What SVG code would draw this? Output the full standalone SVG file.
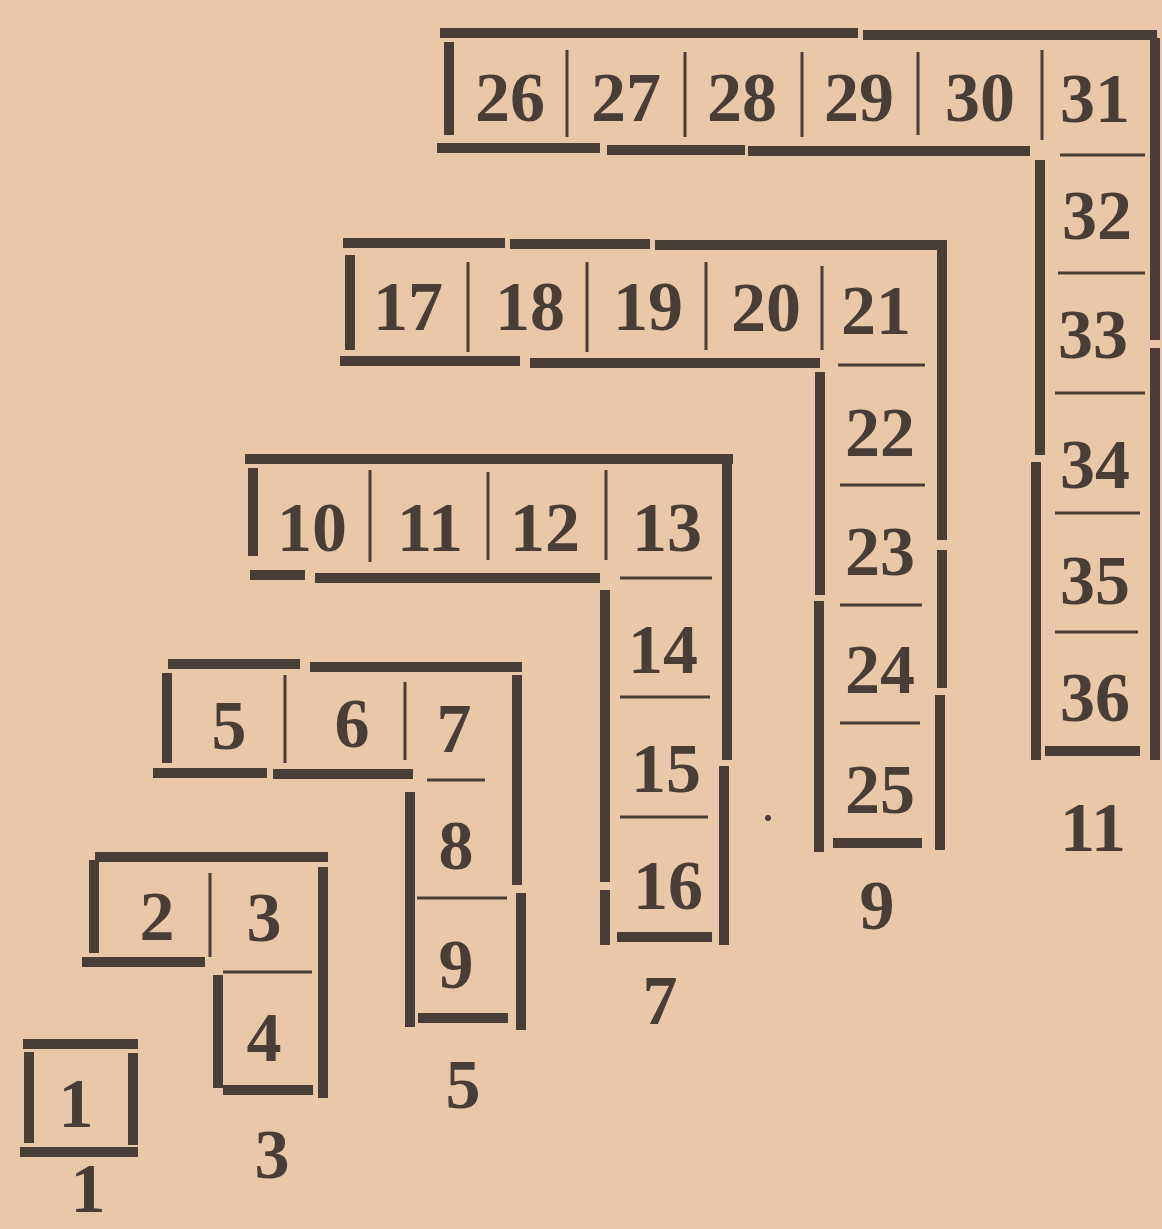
<svg xmlns="http://www.w3.org/2000/svg" width="1162" height="1229" viewBox="0 0 1162 1229">
<style>
.bar{stroke:#4a3d36;stroke-width:10;stroke-linecap:butt;fill:none}
.thin{stroke:#4a3d36;stroke-width:3;fill:none}
.n{font-family:"Liberation Serif","DejaVu Serif",serif;font-size:70px;font-weight:bold;fill:#4a3d36;text-anchor:middle}
</style>
<rect width="1162" height="1229" fill="#e9c7a9"/>
<g id="gnomon1">
<line class="bar" x1="23" y1="1044" x2="138" y2="1044"/>
<line class="bar" x1="29" y1="1052" x2="29" y2="1143"/>
<line class="bar" x1="133" y1="1053" x2="133" y2="1145"/>
<line class="bar" x1="20" y1="1152" x2="138" y2="1152"/>
<text class="n" x="76" y="1127">1</text>
<text class="n" x="88" y="1212">1</text>
</g>
<g id="gnomon3">
<line class="bar" x1="95" y1="857" x2="328" y2="857"/>
<line class="bar" x1="94" y1="860" x2="94" y2="953"/>
<line class="thin" x1="210" y1="873" x2="210" y2="957"/>
<line class="bar" x1="82" y1="962" x2="205" y2="962"/>
<line class="bar" x1="323" y1="867" x2="323" y2="1098"/>
<line class="thin" x1="223" y1="972" x2="312" y2="972"/>
<line class="bar" x1="218" y1="975" x2="218" y2="1088"/>
<line class="bar" x1="223" y1="1090" x2="313" y2="1090"/>
<text class="n" x="157" y="940">2</text>
<text class="n" x="264" y="941">3</text>
<text class="n" x="264" y="1061">4</text>
<text class="n" x="272" y="1178">3</text>
</g>
<g id="gnomon5">
<line class="bar" x1="168" y1="664" x2="300" y2="664"/>
<line class="bar" x1="310" y1="667" x2="522" y2="667"/>
<line class="bar" x1="167" y1="673" x2="167" y2="763"/>
<line class="thin" x1="285" y1="675" x2="285" y2="763"/>
<line class="thin" x1="405" y1="682" x2="405" y2="760"/>
<line class="bar" x1="153" y1="773" x2="267" y2="773"/>
<line class="bar" x1="273" y1="774" x2="413" y2="774"/>
<line class="bar" x1="517" y1="675" x2="517" y2="885"/>
<line class="bar" x1="521" y1="893" x2="521" y2="1030"/>
<line class="thin" x1="427" y1="780" x2="485" y2="780"/>
<line class="bar" x1="410" y1="792" x2="410" y2="1027"/>
<line class="thin" x1="417" y1="898" x2="507" y2="898"/>
<line class="bar" x1="418" y1="1018" x2="508" y2="1018"/>
<text class="n" x="229" y="749">5</text>
<text class="n" x="352" y="747">6</text>
<text class="n" x="454" y="752">7</text>
<text class="n" x="456" y="869">8</text>
<text class="n" x="456" y="988">9</text>
<text class="n" x="463" y="1108">5</text>
</g>
<g id="gnomon7">
<line class="bar" x1="245" y1="459" x2="733" y2="459"/>
<line class="bar" x1="253" y1="468" x2="253" y2="556"/>
<line class="thin" x1="370" y1="470" x2="370" y2="562"/>
<line class="thin" x1="488" y1="472" x2="488" y2="560"/>
<line class="thin" x1="606" y1="470" x2="606" y2="560"/>
<line class="bar" x1="250" y1="575" x2="305" y2="575"/>
<line class="bar" x1="315" y1="578" x2="600" y2="578"/>
<line class="bar" x1="727" y1="463" x2="727" y2="760"/>
<line class="bar" x1="724" y1="766" x2="724" y2="945"/>
<line class="thin" x1="620" y1="578" x2="712" y2="578"/>
<line class="thin" x1="620" y1="697" x2="710" y2="697"/>
<line class="thin" x1="620" y1="817" x2="708" y2="817"/>
<line class="bar" x1="605" y1="590" x2="605" y2="882"/>
<line class="bar" x1="605" y1="890" x2="605" y2="945"/>
<line class="bar" x1="617" y1="937" x2="712" y2="937"/>
<text class="n" x="312" y="551">10</text>
<text class="n" x="430" y="551">11</text>
<text class="n" x="545" y="551">12</text>
<text class="n" x="667" y="551">13</text>
<text class="n" x="663" y="673">14</text>
<text class="n" x="666" y="792">15</text>
<text class="n" x="668" y="909">16</text>
<text class="n" x="660" y="1024">7</text>
</g>
<g id="gnomon9">
<line class="bar" x1="343" y1="243" x2="505" y2="243"/>
<line class="bar" x1="510" y1="244" x2="650" y2="244"/>
<line class="bar" x1="655" y1="245" x2="947" y2="245"/>
<line class="bar" x1="350" y1="255" x2="350" y2="350"/>
<line class="thin" x1="468" y1="262" x2="468" y2="352"/>
<line class="thin" x1="587" y1="262" x2="587" y2="352"/>
<line class="thin" x1="706" y1="262" x2="706" y2="350"/>
<line class="thin" x1="822" y1="266" x2="822" y2="350"/>
<line class="bar" x1="340" y1="361" x2="520" y2="361"/>
<line class="bar" x1="530" y1="363" x2="820" y2="363"/>
<line class="bar" x1="942" y1="248" x2="942" y2="540"/>
<line class="bar" x1="942" y1="550" x2="942" y2="688"/>
<line class="bar" x1="940" y1="695" x2="940" y2="850"/>
<line class="thin" x1="838" y1="365" x2="925" y2="365"/>
<line class="thin" x1="840" y1="485" x2="925" y2="485"/>
<line class="thin" x1="840" y1="605" x2="922" y2="605"/>
<line class="thin" x1="840" y1="723" x2="920" y2="723"/>
<line class="bar" x1="820" y1="372" x2="820" y2="595"/>
<line class="bar" x1="819" y1="601" x2="819" y2="852"/>
<line class="bar" x1="833" y1="843" x2="922" y2="843"/>
<text class="n" x="408" y="330">17</text>
<text class="n" x="530" y="330">18</text>
<text class="n" x="648" y="330">19</text>
<text class="n" x="766" y="331">20</text>
<text class="n" x="876" y="334">21</text>
<text class="n" x="880" y="456">22</text>
<text class="n" x="880" y="575">23</text>
<text class="n" x="880" y="693">24</text>
<text class="n" x="880" y="813">25</text>
<text class="n" x="877" y="929">9</text>
</g>
<g id="gnomon11">
<line class="bar" x1="440" y1="33" x2="858" y2="33"/>
<line class="bar" x1="863" y1="35" x2="1157" y2="35"/>
<line class="bar" x1="449" y1="42" x2="449" y2="135"/>
<line class="thin" x1="567" y1="50" x2="567" y2="137"/>
<line class="thin" x1="685" y1="52" x2="685" y2="137"/>
<line class="thin" x1="802" y1="52" x2="802" y2="137"/>
<line class="thin" x1="918" y1="52" x2="918" y2="135"/>
<line class="thin" x1="1042" y1="50" x2="1042" y2="140"/>
<line class="bar" x1="437" y1="148" x2="600" y2="148"/>
<line class="bar" x1="607" y1="150" x2="745" y2="150"/>
<line class="bar" x1="748" y1="151" x2="1030" y2="151"/>
<line class="bar" x1="1155" y1="38" x2="1155" y2="340"/>
<line class="bar" x1="1155" y1="348" x2="1155" y2="760"/>
<line class="thin" x1="1060" y1="155" x2="1145" y2="155"/>
<line class="thin" x1="1058" y1="273" x2="1145" y2="273"/>
<line class="thin" x1="1055" y1="393" x2="1145" y2="393"/>
<line class="thin" x1="1055" y1="513" x2="1140" y2="513"/>
<line class="thin" x1="1055" y1="632" x2="1138" y2="632"/>
<line class="bar" x1="1040" y1="160" x2="1040" y2="455"/>
<line class="bar" x1="1036" y1="462" x2="1036" y2="760"/>
<line class="bar" x1="1045" y1="751" x2="1140" y2="751"/>
<text class="n" x="510" y="121">26</text>
<text class="n" x="626" y="121">27</text>
<text class="n" x="742" y="121">28</text>
<text class="n" x="859" y="121">29</text>
<text class="n" x="980" y="121">30</text>
<text class="n" x="1095" y="122">31</text>
<text class="n" x="1097" y="239">32</text>
<text class="n" x="1093" y="358">33</text>
<text class="n" x="1095" y="488">34</text>
<text class="n" x="1095" y="604">35</text>
<text class="n" x="1095" y="721">36</text>
<text class="n" x="1093" y="851">11</text>
</g>
<circle cx="768" cy="818" r="3" fill="#4a3d36"/>
</svg>
